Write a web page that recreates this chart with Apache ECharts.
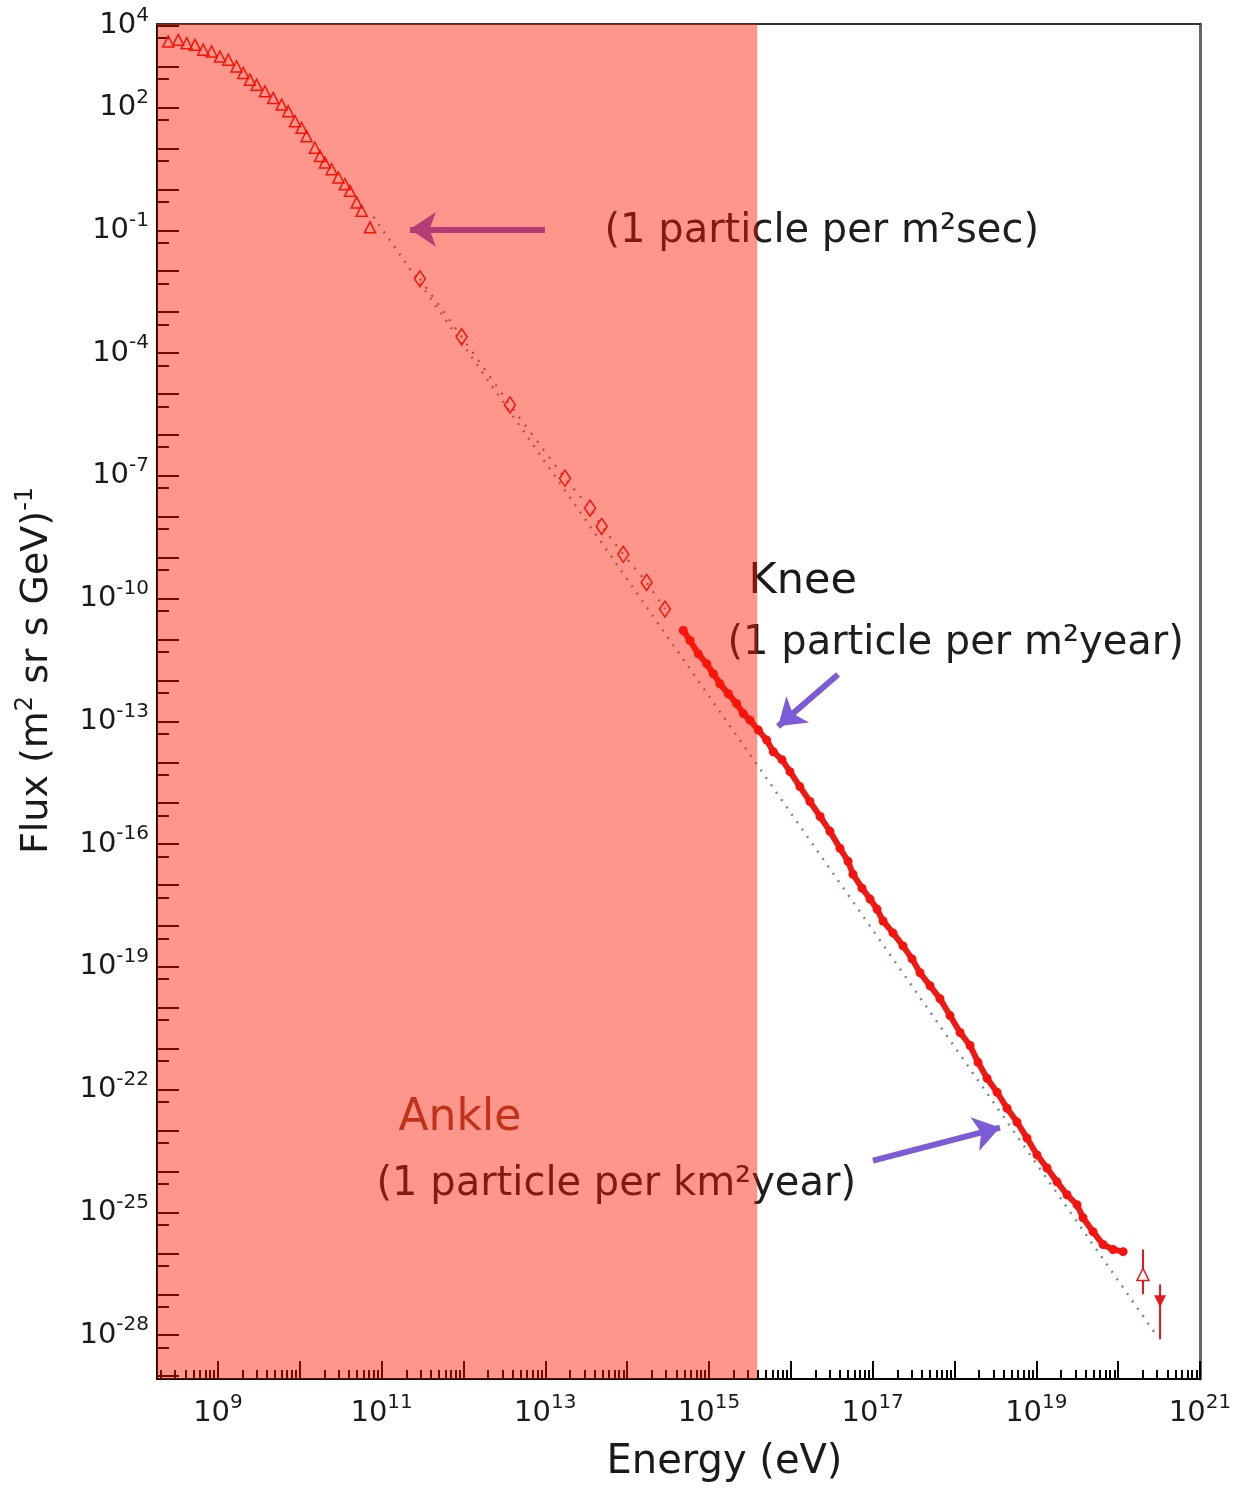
<!DOCTYPE html>
<html>
<head>
<meta charset="utf-8">
<script src="https://cdn.jsdelivr.net/npm/echarts@6/dist/echarts.min.js"></script>
<style>
html,body{margin:0;padding:0;background:#fff;}
#c{width:1242px;height:1488px;}
</style>
</head>
<body>
<div id="c"></div>
<script>
// ---------------- DATA (energy in eV, flux in (m^2 sr s GeV)^-1) ----------------
// low-energy measurements (open triangles)
const lowEnergyE = [2.47e8, 3.27e8, 4.15e8, 5.24e8, 6.61e8, 8.37e8, 1.06e9, 1.34e9, 1.69e9, 2.04e9,
  2.46e9, 2.97e9, 3.75e9, 4.74e9, 6.00e9, 7.23e9, 8.73e9, 1.05e10, 1.21e10, 1.53e10,
  1.77e10, 2.03e10, 2.45e10, 2.96e10, 3.56e10, 4.10e10, 4.95e10, 5.70e10, 7.21e10];
const lowEnergyFlux = [4.10e3, 4.51e3, 3.75e3, 3.41e3, 2.58e3, 2.34e3, 1.77e3, 1.47e3, 1.01e3, 698,
  480, 363, 249, 172, 118, 81.3, 46.5, 32.1, 20.0, 10.4,
  6.53, 4.52, 3.10, 1.95, 1.34, 0.920, 0.480, 0.300, 0.118];
// direct measurements (open diamonds)
const midEnergyE = [2.94e11, 9.51e11, 3.70e12, 1.74e13, 3.52e13, 4.89e13, 8.97e13, 1.73e14, 2.90e14];
const midEnergyFlux = [6.53e-3, 2.49e-4, 5.40e-6, 8.69e-8, 1.62e-8, 5.81e-9, 1.21e-9, 2.48e-10, 5.56e-11];
// air-shower measurements (filled markers)
const highEnergyE = [4.85e14, 5.86e14, 7.40e14, 9.38e14, 1.13e15, 1.36e15, 1.72e15, 2.18e15, 2.63e15, 3.17e15,
  4.01e15, 5.07e15, 6.11e15, 7.80e15, 9.77e15, 1.29e16, 1.71e16, 2.28e16, 3.01e16, 3.99e16,
  5.00e16, 5.75e16, 7.41e16, 9.29e16, 1.13e17, 1.34e17, 1.77e17, 2.35e17, 3.03e17, 3.79e17,
  5.02e17, 6.65e17, 8.81e17, 1.17e18, 1.55e18, 1.94e18, 2.50e18, 3.31e18, 4.39e18, 5.81e18,
  7.69e18, 1.02e19, 1.35e19, 1.79e19, 2.37e19, 3.14e19, 3.72e19, 4.93e19, 6.53e19, 8.65e19, 1.15e20];
const highEnergyFlux = [1.66e-11, 9.46e-12, 4.47e-12, 2.55e-12, 1.46e-12, 8.32e-13, 4.74e-13, 2.71e-13, 1.55e-13, 1.07e-13,
  6.11e-14, 3.49e-14, 1.81e-14, 1.16e-14, 5.90e-15, 2.55e-15, 1.10e-15, 4.74e-16, 2.05e-16, 7.91e-17,
  3.82e-17, 1.84e-17, 8.41e-18, 4.54e-18, 2.59e-18, 1.32e-18, 6.76e-19, 3.26e-19, 1.57e-19, 7.18e-20,
  3.47e-20, 1.67e-20, 6.46e-21, 2.49e-21, 1.20e-21, 4.65e-22, 1.89e-22, 8.65e-23, 3.52e-23, 1.61e-23,
  6.56e-24, 2.54e-24, 1.22e-24, 5.58e-25, 2.70e-25, 1.54e-25, 7.43e-26, 3.39e-26, 1.64e-26, 1.24e-26, 1.10e-26];
// highest-energy points with error bars
const uheE = [2.01e20, 3.25e20];
const uheFlux = [3.05e-27, 6.73e-28];
const uheFluxLow = [1.0e-27, 7.9e-29];
const uheFluxHigh = [1.24e-26, 1.74e-27];
// power-law reference line
const fitE = [7.94e10, 2.82e20];
const fitFlux = [0.214, 1.12e-28];
// shaded region (up to the knee) and axis extents
const shadeEndE = 3.89e15;
const xAxisMinE = 1.8e8, xAxisMaxE = 1e21;
const yAxisMinFlux = 8.5e-30, yAxisMaxFlux = 1.1e4;
// tick labels (powers of ten)
const xLabelExponents = [9, 11, 13, 15, 17, 19, 21];
const yLabelExponents = [4, 2, -1, -4, -7, -10, -13, -16, -19, -22, -25, -28];

// ---------------- CHART ----------------
const lg = Math.log10;
const pts = (E, F) => E.map((e, i) => [lg(e), lg(F[i])]);
const FONT = "'DejaVu Sans', sans-serif";
const xMin = lg(xAxisMinE), xMax = lg(xAxisMaxE), yMin = lg(yAxisMinFlux), yMax = lg(yAxisMaxFlux);
const ints = (a, b) => { const r = []; for (let n = Math.ceil(a); n <= Math.floor(b); n++) r.push(n); return r; };
const xMajor = ints(xMin, xMax);
const xMinor = [];
for (let n = Math.floor(xMin); n < xMax; n++) for (let k = 2; k <= 9; k++) { const v = n + lg(k); if (v > xMin && v < xMax) xMinor.push(v); }
const yMajor = ints(yMin, yMax);
const yMinor = yMajor.map(n => n + lg(0.5)).filter(v => v > yMin);

const tickRich = {
  b: { fontSize: 29, fontFamily: FONT, color: '#1a1a1a' },
  s: { fontSize: 20, fontFamily: FONT, color: '#1a1a1a', padding: [0, 0, 20, 0] }
};
const supLabel = v => '{b|10}{s|' + Math.round(v) + '}';

const annotations = [
  { x: 13.717, y: -1.024, text: '(1 particle per m²sec)', size: 40, color: '#1e1e1e' },
  { x: 15.477, y: -9.585, text: 'Knee', size: 43, color: '#1a1a1a' },
  { x: 15.220, y: -11.098, text: '(1 particle per m²year)', size: 40, color: '#1e1e1e' },
  { x: 11.200, y: -22.707, text: 'Ankle', size: 44, color: '#8f4a30' },
  { x: 10.931, y: -24.317, text: '(1 particle per km²year)', size: 40, color: '#1e1e1e' }
];
const arrows = [
  [[12.996, -0.976], [11.346, -0.976]],
  [[16.577, -11.854], [15.844, -13.122]],
  [[17.004, -23.732], [18.556, -22.927]]
];

const tickStyle = { color: '#000', width: 2 };
const option = {
  animation: false,
  backgroundColor: '#fff',
  grid: { left: 157, right: 42, top: 24, bottom: 106, containLabel: false },
  xAxis: [
    {
      type: 'value', position: 'bottom', min: xMin, max: xMax,
      axisLine: { show: true, onZero: false, lineStyle: { color: '#000', width: 2 } },
      splitLine: { show: false },
      axisTick: { show: true, inside: true, length: 18, customValues: xMajor, lineStyle: tickStyle },
      axisLabel: { customValues: xLabelExponents, formatter: supLabel, margin: 14, rich: tickRich },
      name: 'Energy (eV)', nameLocation: 'middle', nameGap: 64,
      nameTextStyle: { fontSize: 40, fontFamily: FONT, color: '#1a1a1a', padding: [0, 0, 0, 92] }
    },
    {
      type: 'value', position: 'bottom', min: xMin, max: xMax,
      axisLine: { show: false, onZero: false }, splitLine: { show: false }, axisLabel: { show: false },
      axisTick: { show: true, inside: true, length: 9, customValues: xMinor, lineStyle: tickStyle }
    },
    {
      type: 'value', position: 'top', min: xMin, max: xMax,
      axisLine: { show: true, onZero: false, lineStyle: { color: '#333', width: 2 } },
      splitLine: { show: false }, axisLabel: { show: false }, axisTick: { show: false }
    }
  ],
  yAxis: [
    {
      type: 'value', position: 'left', min: yMin, max: yMax,
      axisLine: { show: true, onZero: false, lineStyle: { color: '#000', width: 2 } },
      splitLine: { show: false },
      axisTick: { show: true, inside: true, length: 22, customValues: yMajor, lineStyle: tickStyle },
      axisLabel: { customValues: yLabelExponents, formatter: supLabel, margin: 8, rich: tickRich },
      name: 'Flux (m{s|2} sr s GeV){s|-1}', nameLocation: 'middle', nameGap: 97,
      nameTextStyle: {
        fontSize: 38, fontFamily: FONT, color: '#1a1a1a', padding: [0, 0, 0, 62],
        rich: { s: { fontSize: 24, fontFamily: FONT, color: '#1a1a1a', padding: [0, 0, 22, 0] } }
      }
    },
    {
      type: 'value', position: 'left', min: yMin, max: yMax,
      axisLine: { show: false, onZero: false }, splitLine: { show: false }, axisLabel: { show: false },
      axisTick: { show: true, inside: true, length: 12, customValues: yMinor, lineStyle: tickStyle }
    },
    {
      type: 'value', position: 'right', min: yMin, max: yMax,
      axisLine: { show: true, onZero: false, lineStyle: { color: '#666', width: 3 } },
      splitLine: { show: false }, axisLabel: { show: false }, axisTick: { show: false }
    }
  ],
  series: [
    {
      name: 'reference', type: 'line', data: pts(fitE, fitFlux), symbol: 'none', z: 2,
      lineStyle: { color: '#6f9088', width: 2.5, type: [2, 7] }
    },
    {
      name: 'low', type: 'scatter', data: pts(lowEnergyE, lowEnergyFlux), symbol: 'triangle', symbolSize: 11, z: 3,
      itemStyle: { color: 'rgba(255,0,0,0)', borderColor: '#f01010', borderWidth: 1.5, opacity: 1 }
    },
    {
      name: 'mid', type: 'line', data: pts(midEnergyE, midEnergyFlux), symbol: 'diamond', symbolSize: [11, 16], z: 3,
      lineStyle: { color: '#9a5a55', width: 2, type: [2, 8] },
      itemStyle: { color: 'rgba(255,0,0,0)', borderColor: '#f01010', borderWidth: 1.5 }
    },
    {
      name: 'high', type: 'line', data: pts(highEnergyE, highEnergyFlux), symbol: 'circle', symbolSize: 9, z: 3,
      showSymbol: true,
      lineStyle: { color: '#f01a14', width: 6 },
      itemStyle: { color: '#f5120f' }
    },
    {
      name: 'uheErr', type: 'custom', z: 3,
      data: uheE.map((e, i) => [lg(e), lg(uheFluxLow[i]), lg(uheFluxHigh[i])]),
      encode: { x: 0, y: [1, 2] },
      renderItem: (params, api) => {
        const a = api.coord([api.value(0), api.value(2)]);
        const b = api.coord([api.value(0), api.value(1)]);
        return { type: 'line', shape: { x1: a[0], y1: a[1], x2: b[0], y2: b[1] }, style: { stroke: '#e81818', lineWidth: 2 } };
      }
    },
    {
      name: 'uhe', type: 'scatter', z: 4,
      data: [
        { value: [lg(uheE[0]), lg(uheFlux[0])], symbol: 'triangle', itemStyle: { color: '#fff', borderColor: '#e81818', borderWidth: 1.5, opacity: 1 } },
        { value: [lg(uheE[1]), lg(uheFlux[1])], symbol: 'triangle', symbolRotate: 180, itemStyle: { color: '#e81818', opacity: 1 } }
      ],
      symbolSize: 12
    },
    {
      name: 'notes', type: 'scatter', z: 5, symbolSize: 1, silent: true,
      itemStyle: { color: 'rgba(0,0,0,0)', opacity: 1 },
      data: annotations.map(a => ({
        value: [a.x, a.y],
        label: { show: true, position: 'right', distance: 0, formatter: a.text, fontSize: a.size, fontFamily: FONT, color: a.color }
      })),
      markLine: {
        silent: true, z: 6, symbol: ['none', 'arrow'], symbolSize: 26,
        label: { show: false },
        lineStyle: { color: '#7b5cd6', width: 6, type: 'solid', opacity: 1 },
        data: arrows.map(a => [{ coord: a[0] }, { coord: a[1] }])
      }
    },
    {
      name: 'shade', type: 'line', data: [], z: 50,
      markArea: {
        silent: true, z: 50,
        itemStyle: { color: 'rgba(255,22,0,0.45)' },
        data: [[{ coord: [xMin, yMin] }, { coord: [lg(shadeEndE), yMax] }]]
      }
    }
  ]
};
const chart = echarts.init(document.getElementById('c'));
chart.setOption(option);
</script>
</body>
</html>
